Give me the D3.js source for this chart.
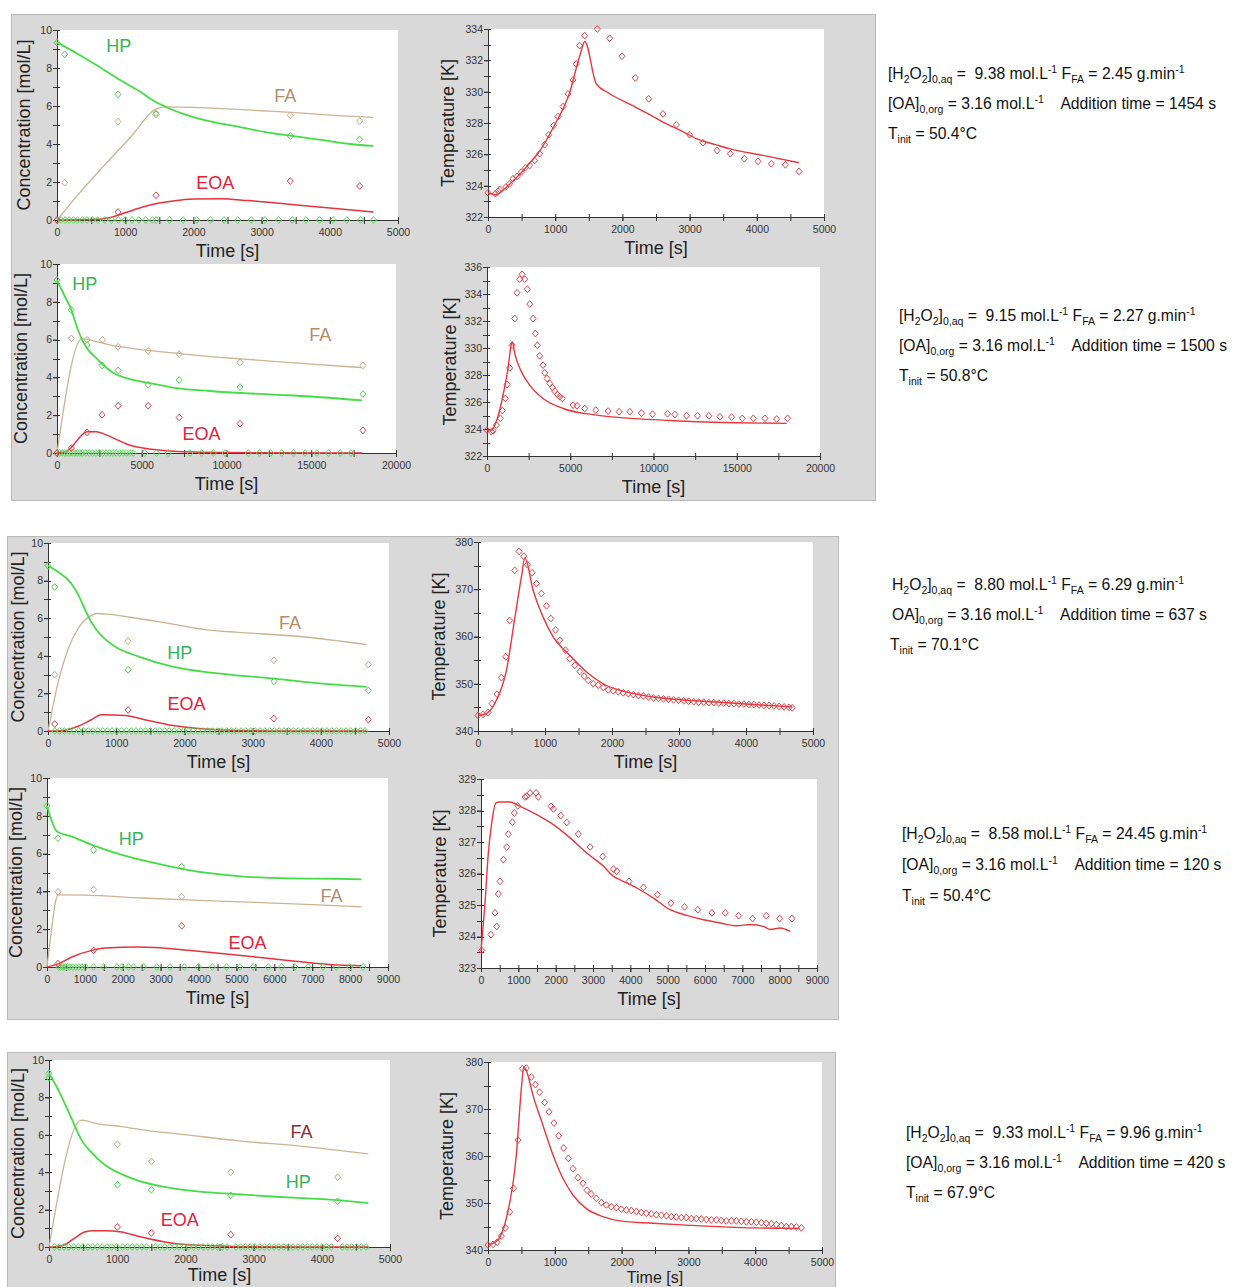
<!DOCTYPE html>
<html><head><meta charset="utf-8">
<script src="https://cdn.jsdelivr.net/npm/d3@7"></script>
<style>body{margin:0;background:#fff}</style>
</head><body>
<svg id="chart" width="1234" height="1287"></svg>
<script>
// ---------------- DATA ----------------
// Panel 1 (run 1, concentrations)
const p1HPLine = [[0,9.35],[300,8.75],[600,8.1],[900,7.42],[1200,6.8],[1454,6.2],[1600,5.95],[1800,5.65],[2000,5.42],[2300,5.15],[2700,4.88],[3100,4.6],[3500,4.4],[3900,4.2],[4300,4.0],[4640,3.9]];
const p1FALine = [[0,0],[300,1.3],[700,2.9],[1100,4.45],[1454,5.85],[1600,5.95],[2000,5.93],[2500,5.85],[3000,5.75],[3500,5.65],[4000,5.52],[4640,5.4]];
const p1EOALine = [[0,0],[500,0.02],[800,0.15],[1000,0.38],[1200,0.62],[1450,0.86],[1700,1.0],[2000,1.1],[2400,1.12],[2800,1.02],[3400,0.83],[4000,0.63],[4640,0.42]];
const p1HPPts = [[0,9.33],[112,8.72],[894,6.61],[1452,5.56],[3421,4.42],[4438,4.25]];
const p1FAPts = [[112,1.96],[894,5.18],[1452,5.63],[3421,5.51],[4438,5.21]];
const p1EOAPts = [[0,0],[894,0.42],[1452,1.3],[3421,2.05],[4438,1.79]];
const p1Zero = [0,60,120,180,240,300,370,440,520,600,700,800,900,1000,1100,1200,1300,1400,1454,1650,1850,2050,2250,2450,2650,2850,3050,3250,3450,3650,3850,4050,4250,4450,4640];
// Panel 2 (run 1, temperature)
const p2TLine = [[0,323.55],[124,323.42],[250,323.8],[372,324.3],[500,324.85],[620,325.45],[750,326.1],[868,326.9],[1000,327.95],[1116,328.9],[1220,330.0],[1314,331.5],[1380,332.5],[1440,333.2],[1612,330.5],[1800,329.9],[2108,329.2],[2400,328.55],[2604,328.05],[2900,327.45],[3100,327.0],[3400,326.6],[3600,326.35],[4092,325.93],[4628,325.46]];
const p2TPts = [[0,323.55],[109,323.49],[149,323.64],[174,323.76],[263,323.91],[322,324.12],[372,324.44],[432,324.59],[496,324.87],[556,325.14],[620,325.29],[694,325.61],[769,326.04],[843,326.61],[903,327.25],[977,327.84],[1042,328.41],[1116,329.05],[1190,329.86],[1265,330.75],[1314,331.77],[1364,332.94],[1438,333.58],[1627,334.0],[1811,333.41],[1994,332.26],[2192,330.88],[2391,329.54],[2604,328.58],[2803,327.88],[3001,327.25],[3199,326.74],[3408,326.25],[3606,326.04],[3814,325.72],[4018,325.55],[4216,325.4],[4425,325.33],[4628,324.91]];
// Panel 3 (run 2, concentrations)
const p3HPLine = [[0,9.15],[400,8.4],[847,7.57],[1200,6.6],[1478,6.0],[1800,5.5],[2128,5.19],[2719,4.67],[3300,4.25],[4098,3.96],[5478,3.7],[7054,3.43],[9000,3.28],[10995,3.17],[13000,3.08],[14936,2.99],[17990,2.78]];
const p3FALine = [[0,0],[1478,6.05],[2500,5.85],[3500,5.65],[5084,5.46],[7000,5.28],[9025,5.1],[11000,4.97],[12966,4.84],[15000,4.7],[17990,4.52]];
const p3EOALine = [[0,0],[500,0.05],[800,0.25],[1143,0.62],[1500,0.98],[1773,1.12],[2325,1.13],[2800,1.0],[3113,0.88],[3600,0.68],[4098,0.48],[5084,0.26],[6463,0.12],[8039,0.05],[10000,0.02],[18000,0]];
const p3HPPts = [[0,9.15],[847,7.57],[1773,5.72],[2660,4.63],[3606,4.37],[5379,3.61],[7212,3.86],[10798,3.49],[18049,3.12]];
const p3FAPts = [[847,6.07],[1773,5.99],[2680,5.99],[3606,5.62],[5379,5.4],[7212,5.23],[10798,4.79],[18049,4.63]];
const p3EOAPts = [[0,0],[847,0.26],[1773,1.09],[2660,2.02],[3606,2.5],[5379,2.5],[7212,1.88],[10798,1.55],[18049,1.2]];
const p3Zero = [0,150,300,450,600,750,900,1050,1200,1350,1500,1700,1900,2100,2300,2500,2700,2900,3100,3300,3500,3700,3900,4100,4300,4500,5182,5872,6562,7842,8532,9222,9911,11291,11941,12611,13261,13951,14640,15330,16020,16709,17340];
// Panel 4 (run 2, temperature)
const p4TLine = [[0,323.92],[260,323.9],[561,324.55],[962,326.5],[1263,328.5],[1463,330.3],[1523,330.45],[1663,329.6],[2064,328.25],[2565,327.25],[3367,326.26],[4569,325.52],[6573,325.03],[8577,324.79],[10581,324.66],[12585,324.54],[15000,324.46],[17996,324.42]];
const p4TPts = [[0,323.92],[260,323.8],[361,323.87],[561,324.29],[802,324.79],[922,325.36],[1102,326.27],[1202,327.3],[1363,328.53],[1503,330.2],[1663,332.18],[1804,334.09],[1964,335.1],[2104,335.46],[2265,335.1],[2425,334.36],[2565,333.25],[2766,332.18],[2906,331.07],[3026,330.2],[3166,329.42],[3367,328.73],[3467,328.16],[3607,327.74],[3768,327.37],[3928,327.08],[4068,326.8],[4228,326.56],[4369,326.39],[4529,326.26],[5170,325.77],[5411,325.72],[5872,325.52],[6533,325.4],[7275,325.33],[7936,325.28],[8577,325.28],[9279,325.18],[9940,325.1],[10842,325.13],[11283,325.08],[11984,324.98],[12645,324.98],[13327,324.98],[13988,324.91],[14689,324.88],[15331,324.79],[15992,324.79],[16693,324.79],[17395,324.74],[18056,324.79]];
// Panel 5 (run 3, concentrations)
const p5HPLine = [[0,8.79],[150,8.45],[342,7.85],[450,7.2],[550,6.4],[650,5.7],[750,5.2],[850,4.85],[1000,4.45],[1321,3.97],[1810,3.44],[2299,3.14],[2800,2.95],[3278,2.8],[3800,2.6],[4256,2.45],[4672,2.35]];
const p5FALine = [[0,0],[150,2.6],[300,4.4],[450,5.5],[637,6.15],[720,6.25],[900,6.2],[1200,6.05],[1810,5.7],[2400,5.35],[2789,5.25],[3767,5.0],[4672,4.6]];
const p5EOALine = [[0,0],[200,0.02],[440,0.25],[636,0.6],[783,0.87],[1125,0.83],[1419,0.6],[1810,0.3],[2299,0.1],[2789,0.03],[3500,0],[4672,0]];
const p5HPPts = [[0,8.79],[98,7.66],[1174,3.26],[3312,2.64],[4697,2.16]];
const p5FAPts = [[98,3.0],[1174,4.77],[3312,3.76],[4697,3.53]];
const p5EOAPts = [[98,0.37],[1174,1.12],[3312,0.66],[4697,0.6]];
const p5Zero = [100,170,240,310,380,450,520,590,660,730,800,870,940,1010,1080,1150,1220,1290,1360,1430,1500,1570,1640,1710,1780,1850,1920,1990,2060,2130,2200,2270,2340,2410,2480,2550,2620,2690,2760,2830,2900,2970,3040,3110,3180,3250,3320,3390,3460,3530,3600,3670,3740,3810,3880,3950,4020,4090,4160,4230,4300,4370,4440,4510,4580,4650];
// Panel 6 (run 3, temperature)
const p6TLine = [[0,343.3],[125,343.7],[274,346.5],[424,352.8],[548,363.8],[648,372.6],[700,376.6],[823,369.8],[972,364.1],[1122,359.9],[1371,356.0],[1620,352.5],[1869,350.0],[2119,348.6],[2617,347.2],[3116,346.5],[3614,346.1],[4113,345.6],[4686,345.1]];
const p6TPts = [[0,343.3],[75,343.5],[150,343.9],[209,345.8],[284,347.8],[349,351.3],[414,355.7],[474,363.4],[548,374.0],[613,378.0],[683,377.0],[738,375.2],[808,373.5],[872,371.2],[947,369.1],[1022,366.5],[1087,363.8],[1157,361.4],[1221,359.2],[1306,357.1],[1371,355.3],[1446,353.9],[1520,352.6],[1585,351.6],[1645,350.7],[1720,350.0],[1795,349.7],[1869,349.2],[1944,348.7],[2019,348.5],[2094,348.3],[2169,348.1],[2244,347.9],[2319,347.7],[2394,347.5],[2469,347.4],[2544,347.2],[2619,347.0],[2694,346.9],[2769,346.8],[2844,346.7],[2919,346.6],[2994,346.5],[3069,346.4],[3144,346.3],[3219,346.2],[3294,346.1],[3369,346.1],[3444,346.0],[3519,346.0],[3594,345.9],[3669,345.9],[3744,345.8],[3819,345.8],[3894,345.7],[3969,345.7],[4044,345.6],[4119,345.6],[4194,345.5],[4269,345.4],[4344,345.4],[4419,345.3],[4494,345.2],[4569,345.1],[4644,345.0],[4690,344.9]];
// Panel 7 (run 4, concentrations)
const p7HPLine = [[0,8.53],[263,7.17],[658,6.9],[1185,6.46],[1975,5.93],[2853,5.49],[3731,5.13],[5048,4.81],[6366,4.69],[7682,4.67],[8297,4.64]];
const p7FALine = [[0,0],[60,1.0],[140,2.3],[220,3.4],[290,3.82],[1000,3.8],[2500,3.65],[4000,3.52],[5500,3.42],[7000,3.3],[8297,3.18]];
const p7EOALine = [[0,0],[307,0.18],[658,0.53],[1185,0.88],[1536,1.0],[2414,1.06],[2853,1.03],[3731,0.88],[5048,0.62],[6366,0.35],[7682,0.1],[8297,0.07]];
const p7HPPts = [[0,8.53],[290,6.81],[1229,6.19],[3556,5.31]];
const p7FAPts = [[290,3.98],[1229,4.1],[3556,3.72]];
const p7EOAPts = [[290,0.18],[1229,0.88],[3556,2.18]];
const p7Zero = [310,360,420,480,540,600,680,760,840,920,1010,1229,1493,1844,1975,2151,2283,2546,2897,3248,3626,3995,4363,4741,5092,5443,5838,6190,6541,6892,7287,7638,7990,8341];
// Panel 8 (run 4, temperature)
const p8TLine = [[0,323.53],[107,325.06],[197,326.65],[286,327.6],[402,328.24],[509,328.27],[777,328.27],[1046,328.13],[1492,327.87],[1939,327.55],[2386,327.13],[2833,326.65],[3280,326.23],[3548,325.91],[3727,325.8],[4174,325.54],[4620,325.22],[5067,324.85],[5514,324.67],[5961,324.53],[6408,324.43],[6854,324.34],[7212,324.38],[7569,324.32],[7748,324.22],[8016,324.27],[8284,324.16]];
const p8TPts = [[18,323.56],[268,324.06],[375,324.75],[420,324.32],[465,325.35],[509,325.75],[599,326.44],[688,326.84],[733,327.25],[840,327.63],[894,327.92],[983,328.15],[1180,328.43],[1224,328.45],[1314,328.56],[1475,328.56],[1537,328.43],[1877,328.13],[1939,328.05],[2136,327.84],[2297,327.62],[2609,327.25],[2922,326.84],[3262,326.54],[3548,326.14],[3637,326.07],[3968,325.75],[4352,325.56],[4727,325.33],[5085,325.06],[5451,324.94],[5809,324.85],[6184,324.75],[6542,324.75],[6899,324.66],[7274,324.57],[7641,324.66],[8000,324.57],[8329,324.57]];
// Panel 9 (run 5, concentrations)
const p9HPLine = [[0,9.29],[150,8.3],[328,6.89],[475,5.73],[650,4.95],[817,4.4],[1062,3.9],[1306,3.55],[1796,3.15],[2285,2.94],[2700,2.84],[3263,2.7],[3800,2.6],[4241,2.51],[4682,2.35]];
const p9FALine = [[0,0],[475,6.78],[700,6.6],[1062,6.44],[1500,6.2],[1796,6.09],[2774,5.68],[3752,5.37],[4682,4.98]];
const p9EOALine = [[0,0],[100,0.02],[230,0.12],[377,0.48],[523,0.8],[650,0.87],[817,0.87],[1062,0.8],[1306,0.57],[1698,0.27],[2040,0.12],[2529,0.05],[3000,0.01],[4682,0]];
const p9HPPts = [[0,9.29],[0,9.05],[1003,3.33],[1502,3.06],[2666,2.76],[4232,2.44]];
const p9FAPts = [[1003,5.5],[1502,4.57],[2666,4.0],[4232,3.74]];
const p9EOAPts = [[1003,1.07],[1502,0.75],[2666,0.66],[4232,0.46]];
const p9Zero = [80,150,220,290,360,430,500,570,640,710,780,850,920,990,1080,1150,1220,1290,1360,1430,1560,1630,1700,1770,1840,1910,1980,2050,2120,2190,2260,2330,2400,2470,2540,2610,2740,2810,2880,2950,3020,3090,3160,3230,3300,3370,3440,3510,3580,3650,3720,3790,3860,3930,4000,4070,4140,4300,4370,4440,4510,4580,4650];
// Panel 10 (run 5, temperature)
const p10TLine = [[0,341.06],[125,341.8],[274,346.7],[424,360.2],[500,374.5],[534,379.0],[574,378.2],[674,372.9],[823,366.5],[973,360.2],[1123,355.2],[1272,351.7],[1472,348.8],[1722,347.1],[1971,346.2],[2470,345.7],[2969,345.3],[3967,344.7],[4666,344.6]];
const p10TPts = [[0,341.06],[75,341.2],[135,341.63],[200,342.97],[259,344.7],[324,348.1],[384,353.1],[449,363.4],[514,378.6],[574,378.7],[649,376.8],[709,375.2],[773,373.6],[848,371.4],[913,369.4],[988,367.0],[1058,364.3],[1133,361.7],[1203,359.5],[1272,357.3],[1347,355.4],[1422,354.2],[1482,352.7],[1547,351.9],[1622,351.0],[1697,350.1],[1771,349.6],[1846,349.2],[1921,349.0],[1996,348.7],[2071,348.5],[2146,348.4],[2221,348.2],[2295,348.0],[2370,347.8],[2445,347.7],[2520,347.5],[2595,347.4],[2670,347.3],[2745,347.1],[2819,347.0],[2894,346.9],[2969,346.9],[3044,346.7],[3119,346.7],[3194,346.6],[3268,346.5],[3343,346.4],[3418,346.4],[3493,346.3],[3568,346.2],[3643,346.2],[3718,346.2],[3792,346.1],[3867,346.0],[3942,346.0],[4017,345.9],[4092,345.8],[4167,345.7],[4242,345.6],[4316,345.4],[4391,345.2],[4466,345.0],[4541,345.0],[4616,344.9],[4691,344.7]];

// Tick values
const ticks5000 = [0,1000,2000,3000,4000,5000];
const ticks20000 = [0,5000,10000,15000,20000];
const ticks9000 = [0,1000,2000,3000,4000,5000,6000,7000,8000,9000];
const ticksConc = [0,2,4,6,8,10];

// Series labels (text, time, value)
const p1Labels = [["HP",904,9.16],["FA",3348,6.53],["EOA",2322,1.96]];
const p3Labels = [["HP",1635,8.98],["FA",15527,6.25],["EOA",8532,1.02]];
const p5Labels = [["FA",3547,5.74],["HP",1933,4.18],["EOA",2030,1.45]];
const p7Labels = [["HP",2221,6.81],["FA",7507,3.75],["EOA",5294,1.27]];
const p9Labels = [["FA",3703,6.14],["HP",3654,3.5],["EOA",1918,1.46]];

// Notes (experimental conditions)
const noteH2O2 = ["9.38","9.15","8.80","8.58","9.33"];
const noteFFA = ["2.45","2.27","6.29","24.45","9.96"];
const noteOA = ["3.16","3.16","3.16","3.16","3.16"];
const noteAdd = ["1454","1500","637","120","420"];
const noteTinit = ["50.4","50.8","70.1","50.4","67.9"];

// ---------------- STYLES / LAYOUT ----------------
const FONT = '"Liberation Sans", Arial, Helvetica, sans-serif';
const C = {
  hpLine:'#45dd45', hpPt:'#4fd24f', hpLab:'#35b35c',
  faLine:'#ccb394', faPt:'#c9a98c', faLab:'#b58c6c',
  eoaLine:'#e8323f', eoaPt:'#e0404c', eoaLab:'#e6213b',
  tLine:'#e8383d', tPt:'#e54349',
  zero:'#5cd65c', axis:'#333', bg:'#d9d9d9', bgStroke:'#b9b9b9'
};

const svg = d3.select('#chart');

// gray boxes
const boxes = [[11,14,864,486],[7,536,831,483],[7,1052,828,240]];
boxes.forEach(b => svg.append('rect').attr('x',b[0]+0.5).attr('y',b[1]+0.5).attr('width',b[2]).attr('height',b[3])
  .attr('fill',C.bg).attr('stroke',C.bgStroke));

function concSeries(hpL,faL,eoaL,hpP,faP,eoaP,zero){
  return {lines:[[faL,C.faLine,1.3],[hpL,C.hpLine,1.8],[eoaL,C.eoaLine,1.5]],
          pts:[[hpP,C.hpPt],[faP,C.faPt],[eoaP,C.eoaPt]], zero};
}
function tempSeries(l,p){ return {lines:[[l,C.tLine,1.4]], pts:[[p,C.tPt]], zero:null}; }

const panels = [
 {box:[57,398,30,220], xd:[0,5000], yd:[0,10], xt:ticks5000, xm:500, yt:ticksConc, ym:1, ytOff:33, xtOff:37, xtSize:18, title:'Concentration [mol/L]', s:concSeries(p1HPLine,p1FALine,p1EOALine,p1HPPts,p1FAPts,p1EOAPts,p1Zero), labels:p1Labels, faLab:C.faLab},
 {box:[488,824,29,217], xd:[0,5000], yd:[322,334], xt:ticks5000, xm:500, yt:[322,324,326,328,330,332,334], ym:1, ytOff:40, xtOff:37, xtSize:18, title:'Temperature [K]', s:tempSeries(p2TLine,p2TPts)},
 {box:[57,396,264,453], xd:[0,20000], yd:[0,10], xt:ticks20000, xm:2500, yt:ticksConc, ym:1, ytOff:36, xtOff:37, xtSize:18, title:'Concentration [mol/L]', s:concSeries(p3HPLine,p3FALine,p3EOALine,p3HPPts,p3FAPts,p3EOAPts,p3Zero), labels:p3Labels, faLab:C.faLab},
 {box:[487,820,267,456], xd:[0,20000], yd:[322,336], xt:ticks20000, xm:2500, yt:[322,324,326,328,330,332,334,336], ym:1, ytOff:37, xtOff:37, xtSize:18, title:'Temperature [K]', s:tempSeries(p4TLine,p4TPts)},
 {box:[48,389,543,731], xd:[0,5000], yd:[0,10], xt:ticks5000, xm:500, yt:ticksConc, ym:1, ytOff:30, xtOff:37, xtSize:18, title:'Concentration [mol/L]', s:concSeries(p5HPLine,p5FALine,p5EOALine,p5HPPts,p5FAPts,p5EOAPts,p5Zero), labels:p5Labels, faLab:C.faLab},
 {box:[478,813,542,731], xd:[0,5000], yd:[340,380], xt:ticks5000, xm:500, yt:[340,350,360,370,380], ym:5, ytOff:39, xtOff:37, xtSize:18, title:'Temperature [K]', s:tempSeries(p6TLine,p6TPts)},
 {box:[47,388,778,967], xd:[0,9000], yd:[0,10], xt:ticks9000, xm:500, yt:ticksConc, ym:1, ytOff:31, xtOff:37, xtSize:18, title:'Concentration [mol/L]', s:concSeries(p7HPLine,p7FALine,p7EOALine,p7HPPts,p7FAPts,p7EOAPts,p7Zero), labels:p7Labels, faLab:C.faLab},
 {box:[481,817,779,968], xd:[0,9000], yd:[323,329], xt:ticks9000, xm:500, yt:[323,324,325,326,327,328,329], ym:0.5, ytOff:41, xtOff:37, xtSize:18, title:'Temperature [K]', s:tempSeries(p8TLine,p8TPts)},
 {box:[49,390,1060,1247], xd:[0,5000], yd:[0,10], xt:ticks5000, xm:500, yt:ticksConc, ym:1, ytOff:31, xtOff:34, xtSize:18, title:'Concentration [mol/L]', s:concSeries(p9HPLine,p9FALine,p9EOALine,p9HPPts,p9FAPts,p9EOAPts,p9Zero), labels:p9Labels, faLab:'#8e2a36'},
 {box:[488,822,1062,1250], xd:[0,5000], yd:[340,380], xt:ticks5000, xm:500, yt:[340,350,360,370,380], ym:5, ytOff:41, xtOff:33, xtSize:16, title:'Temperature [K]', s:tempSeries(p10TLine,p10TPts)}
];

const diamond = 'M0,-3.4L3,0L0,3.4L-3,0Z';

panels.forEach(p => {
  const [L,R,T,B] = p.box;
  const x = d3.scaleLinear().domain(p.xd).range([L,R]);
  const y = d3.scaleLinear().domain(p.yd).range([B,T]);
  const g = svg.append('g');
  g.append('rect').attr('x',L).attr('y',T).attr('width',R-L).attr('height',B-T).attr('fill','#fff');

  // minor crossing ticks
  const xm = d3.range(p.xd[0], p.xd[1]+1e-9, p.xm);
  const ym = d3.range(p.yd[0], p.yd[1]+1e-9, p.ym);
  g.selectAll(null).data(xm).join('line').attr('x1',d=>x(d)+0.5).attr('x2',d=>x(d)+0.5)
    .attr('y1',B-3).attr('y2',B+4).attr('stroke',C.axis).attr('stroke-width',1);
  g.selectAll(null).data(ym).join('line').attr('y1',d=>Math.round(y(d))+0.5).attr('y2',d=>Math.round(y(d))+0.5)
    .attr('x1',L-4).attr('x2',L+3).attr('stroke',C.axis).attr('stroke-width',1);

  const ax = g.append('g').attr('transform',`translate(0,${B})`)
    .call(d3.axisBottom(x).tickValues(p.xt).tickFormat(d3.format('d')).tickSize(4).tickSizeOuter(0).tickPadding(5));
  const ay = g.append('g').attr('transform',`translate(${L},0)`)
    .call(d3.axisLeft(y).tickValues(p.yt).tickFormat(d3.format('d')).tickSize(4).tickSizeOuter(0).tickPadding(1));
  [ax,ay].forEach(a => {
    a.selectAll('path,line').attr('stroke',C.axis);
    a.selectAll('text').attr('fill','#333').style('font-family',FONT).style('font-size','10.5px');
  });

  // axis titles
  g.append('text').attr('x',(L+R)/2).attr('y',B+p.xtOff).attr('text-anchor','middle')
    .style('font-family',FONT).style('font-size',p.xtSize+'px').attr('fill','#222').text('Time [s]');
  g.append('text').attr('transform',`translate(${L-p.ytOff},${(T+B)/2}) rotate(-90)`).attr('text-anchor','middle')
    .attr('dy','0.35em').style('font-family',FONT).style('font-size','18px').attr('fill','#222').text(p.title);

  const line = d3.line().x(d=>x(d[0])).y(d=>y(d[1])).curve(d3.curveMonotoneX);
  p.s.lines.forEach(([data,col,w]) => {
    g.append('path').attr('d',line(data)).attr('fill','none').attr('stroke',col).attr('stroke-width',w).attr('stroke-linejoin','round');
  });
  if (p.s.zero) {
    g.selectAll(null).data(p.s.zero).join('path').attr('d',diamond)
      .attr('transform',d=>`translate(${x(d)},${y(0)})`).attr('fill','none').attr('stroke',C.zero).attr('stroke-width',1);
  }
  p.s.pts.forEach(([data,col]) => {
    g.selectAll(null).data(data).join('path').attr('d',diamond)
      .attr('transform',d=>`translate(${x(d[0])},${y(d[1])})`).attr('fill','none').attr('stroke',col).attr('stroke-width',1);
  });
  if (p.labels) {
    const labCol = {HP:C.hpLab, FA:p.faLab, EOA:C.eoaLab};
    p.labels.forEach(([t,tx,ty]) => {
      g.append('text').attr('x',x(tx)).attr('y',y(ty)).attr('dy','0.35em').attr('text-anchor','middle')
        .style('font-family',FONT).style('font-size','18px').attr('fill',labCol[t]).text(t);
    });
  }
});

// ---------------- NOTES ----------------
function noteLine(x, yy, parts) {
  const t = svg.append('text').attr('x',x).attr('y',yy).style('font-family',FONT).style('font-size','15.7px')
    .style('white-space','pre').attr('xml:space','preserve').attr('fill','#111');
  let shift = 0;
  parts.forEach(pt => {
    const [s,k] = typeof pt === 'string' ? [pt,'n'] : pt;
    const target = k==='sub' ? 3.5 : (k==='sup' ? -6 : 0);
    t.append('tspan').attr('dy', target-shift).style('font-size', k==='n' ? '15.7px' : '10.5px').text(s);
    shift = target;
  });
}
const noteLayout = [[888,79,30,true,0],[899,321,30,true,0],[892,590,30,false,-2],[902,839,31,true,0],[906,1138,30,true,0]];
noteLayout.forEach(([nx,ny,dy,br,tdx],i) => {
  const b = br ? '[' : '';
  noteLine(nx, ny, [b+'H',['2','sub'],'O',['2','sub'],']',['0,aq','sub'],' =  '+noteH2O2[i]+' mol.L',['-1','sup'],' F',['FA','sub'],' = '+noteFFA[i]+' g.min',['-1','sup']]);
  noteLine(nx, ny+dy, [b+'OA]',['0,org','sub'],' = '+noteOA[i]+' mol.L',['-1','sup'],'    Addition time = '+noteAdd[i]+' s']);
  noteLine(nx+tdx, ny+2*dy, ['T',['init','sub'],' = '+noteTinit[i]+'°C']);
});
</script>
</body></html>
